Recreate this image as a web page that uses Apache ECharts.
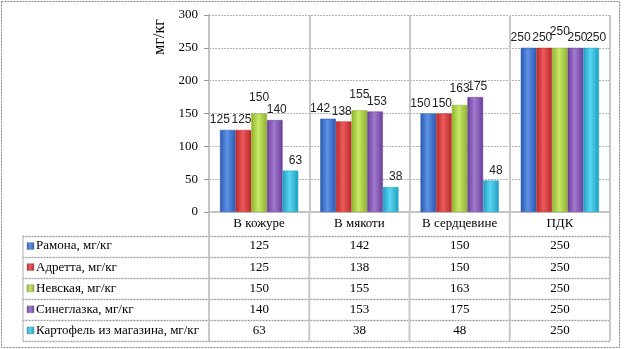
<!DOCTYPE html>
<html><head><meta charset="utf-8">
<script src="https://cdn.jsdelivr.net/npm/echarts@6/dist/echarts.min.js"></script>
<style>html,body{margin:0;padding:0;background:#fff}#c{width:625px;height:349px}</style>
</head><body><div id="c"></div>
<script>
const categories = ['В кожуре', 'В мякоти', 'В сердцевине', 'ПДК'];
const seriesNames = ['Рамона, мг/кг', 'Адретта, мг/кг', 'Невская, мг/кг', 'Синеглазка, мг/кг', 'Картофель из магазина, мг/кг'];
const ramona = [125, 142, 150, 250];
const adretta = [125, 138, 150, 250];
const nevskaya = [150, 155, 163, 250];
const sinyeglazka = [140, 153, 175, 250];
const shop = [63, 38, 48, 250];
const yTicks = { min: 0, max: 300, interval: 50 };
const yName = 'мг/кг';

const allValues = [ramona, adretta, nevskaya, sinyeglazka, shop];
const palette = [
  ['#2a59b0', '#5d92e6'],
  ['#b82828', '#ec5a5a'],
  ['#8db32c', '#c8e868'],
  ['#6a3e98', '#a27ad0'],
  ['#1f9ec0', '#5ad6f2']
];
// label nudges per series (style, to spread overlapping labels like the original)
const labelDx = [-8, -2, 0, 2, 5];
const labelDy = [0, 0, -6, 0, 0];
const serif = 'Liberation Serif';

function grad(c) {
  return new echarts.graphic.LinearGradient(0, 0, 1, 0, [
    { offset: 0, color: c[0] }, { offset: 0.45, color: c[1] }, { offset: 1, color: c[0] }
  ]);
}

const chart = echarts.init(document.getElementById('c'), null, { renderer: 'canvas' });
const GL = 209, GR = 15, GT = 15, GB = 137;
chart.setOption({
  animation: false,
  grid: { left: GL, right: GR, top: GT, bottom: GB, containLabel: false },
  xAxis: {
    type: 'category', data: categories,
    axisLine: { show: true, lineStyle: { color: '#c4c4c4', width: 2 } },
    axisTick: { show: false },
    axisLabel: { margin: 5, fontFamily: serif, fontSize: 13, color: '#000' },
    splitLine: { show: true, lineStyle: { color: '#c8c8c8', width: 2 } }
  },
  yAxis: {
    type: 'value', min: yTicks.min, max: yTicks.max, interval: yTicks.interval,
    axisLine: { show: true, lineStyle: { color: '#c4c4c4', width: 2 } },
    axisTick: { show: true, length: 5, lineStyle: { color: '#999' } },
    axisLabel: { margin: 11, fontFamily: serif, fontSize: 13, color: '#000' },
    splitLine: { show: true, lineStyle: { color: '#b4b4b4', width: 1, type: [2, 1] } }
  },
  series: seriesNames.map((n, i) => ({
    name: n, type: 'bar', data: allValues[i],
    barGap: '0%', barCategoryGap: '22%',
    itemStyle: { color: grad(palette[i]), borderColor: palette[i][0], borderWidth: 0.5 },
    label: { show: true, position: 'top', distance: 4, fontFamily: 'Liberation Sans', fontSize: 12, color: '#222' },
    labelLayout: function (p) { return { dx: labelDx[p.seriesIndex], dy: labelDy[p.seriesIndex] }; }
  }))
});

// Build the data table below the plot
const rowTop = 235.5, rowH = 21.1, tblLeft = 23;
const plotBottom = 349 - GB;
const centers = categories.map((c) => chart.convertToPixel({ xAxisIndex: 0 }, c));
const halfW = (centers[1] - centers[0]) / 2;
const bounds = [centers[0] - halfW].concat(centers.map(c => c + halfW));
const tblBottom = rowTop + rowH * seriesNames.length;
const els = [];
els.push({ type: 'rect', shape: { x: 1.5, y: 1.5, width: 618, height: 346 }, style: { fill: null, stroke: '#888', lineWidth: 1, lineDash: [2, 1] }, silent: true });
els.push({ type: 'text', x: 160, y: 37, rotation: Math.PI / 2, style: { text: yName, font: '16px "' + serif + '"', fill: '#000', align: 'center', verticalAlign: 'middle' } });
bounds.forEach(x => els.push({ type: 'line', shape: { x1: x, y1: plotBottom, x2: x, y2: tblBottom }, style: { stroke: '#c8c8c8', lineWidth: 2 } }));
els.push({ type: 'line', shape: { x1: tblLeft, y1: rowTop, x2: tblLeft, y2: tblBottom }, style: { stroke: '#c8c8c8', lineWidth: 1.5 } });
for (let r = 0; r <= seriesNames.length; r++) {
  const y = Math.round(rowTop + rowH * r) + 0.5;
  els.push({ type: 'line', shape: { x1: tblLeft, y1: y, x2: bounds[bounds.length - 1], y2: y }, style: { stroke: '#d0d0d0', lineWidth: 1.5 } });
  els.push({ type: 'line', shape: { x1: tblLeft, y1: y, x2: bounds[bounds.length - 1], y2: y }, style: { stroke: '#999', lineWidth: 1, lineDash: [1, 2] } });
}
seriesNames.forEach((n, i) => {
  const cy = rowTop + rowH * i + rowH / 2;
  els.push({ type: 'rect', shape: { x: 27, y: cy - 3.5, width: 7, height: 7 }, style: { fill: grad(palette[i]), stroke: '#888', lineWidth: 0.5 } });
  els.push({ type: 'text', x: 36, y: cy, style: { text: n, font: '13px "' + serif + '"', fill: '#000', align: 'left', verticalAlign: 'middle' } });
  allValues[i].forEach((v, j) => {
    els.push({ type: 'text', x: centers[j], y: cy, style: { text: String(v), font: '13px "' + serif + '"', fill: '#000', align: 'center', verticalAlign: 'middle' } });
  });
});
chart.setOption({ graphic: { elements: els } });
</script></body></html>
